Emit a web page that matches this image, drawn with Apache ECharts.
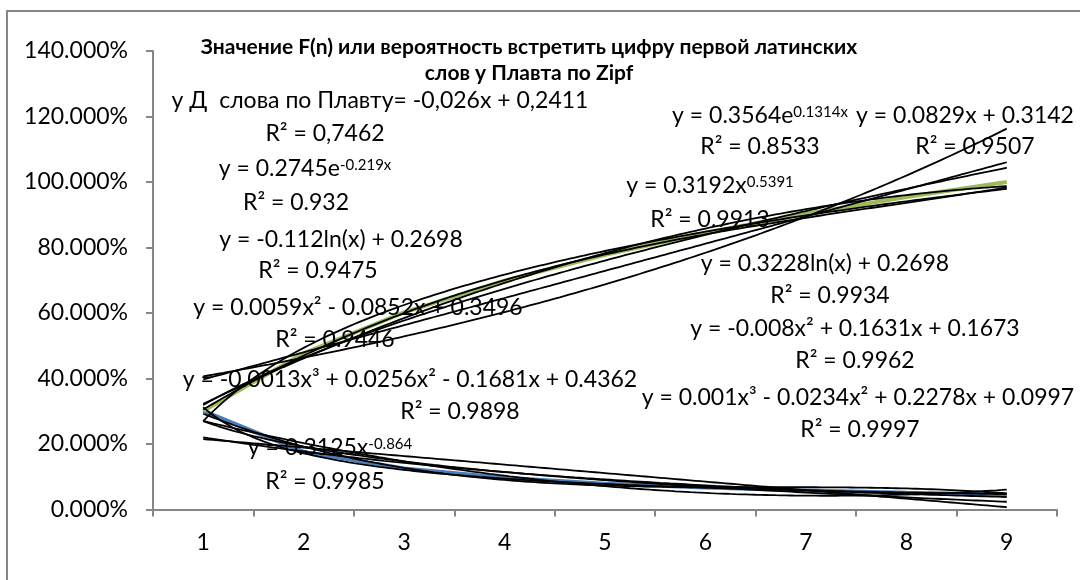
<!DOCTYPE html>
<html>
<head>
<meta charset="utf-8">
<script src="https://cdn.jsdelivr.net/npm/echarts@6/dist/echarts.min.js"></script>
<style>
  html, body { margin: 0; padding: 0; background: #fff; }
  #chart { width: 1080px; height: 580px; }
</style>
</head>
<body>
<div id="chart"></div>
<script>
// First digit 1..9
const digits = ['1', '2', '3', '4', '5', '6', '7', '8', '9'];
// Probability of each first digit
const digitProb = [0.301, 0.176, 0.125, 0.097, 0.079, 0.067, 0.058, 0.051, 0.046];
// Cumulative value F(n)
const cumulativeF = [0.301, 0.477, 0.602, 0.699, 0.778, 0.845, 0.903, 0.954, 1.000];

// Trendline coefficients as printed in the equations
const decLinear = [-0.026, 0.2411];           // a*x + b
const decExp = [0.2745, -0.219];              // a*e^(b*x)
const decLog = [-0.112, 0.2698];              // a*ln(x) + b
const decPoly2 = [0.0059, -0.0852, 0.3496];   // a*x^2 + b*x + c
const decPoly3 = [-0.0013, 0.0256, -0.1681, 0.4362];
const decPower = [0.3125, -0.864];            // a*x^b

const incExp = [0.3564, 0.1314];
const incLinear = [0.0829, 0.3142];
const incPower = [0.3192, 0.5391];
const incLog = [0.3228, 0.2698];
const incPoly2 = [-0.008, 0.1631, 0.1673];
const incPoly3 = [0.001, -0.0234, 0.2278, 0.0997];

const FONT = 'Lato, "Open Sans", sans-serif';
const EQ_SIZE = 23;
const AXIS_SIZE = 23;

const fns = {
  linear: (c) => (x) => c[0] * x + c[1],
  exp: (c) => (x) => c[0] * Math.exp(c[1] * x),
  log: (c) => (x) => c[0] * Math.log(x) + c[1],
  poly2: (c) => (x) => c[0] * x * x + c[1] * x + c[2],
  poly3: (c) => (x) => c[0] * x * x * x + c[1] * x * x + c[2] * x + c[3],
  power: (c) => (x) => c[0] * Math.pow(x, c[1])
};

function curve(f) {
  const pts = [];
  for (let i = 0; i <= 160; i++) {
    const x = 1 + i * 0.05;
    pts.push([x, f(x)]);
  }
  return pts;
}

function trend(kind, coef) {
  return {
    type: 'line', xAxisIndex: 1, showSymbol: false, symbol: 'none',
    silent: true, z: 3,
    lineStyle: { color: '#000', width: 1.8 },
    data: curve(fns[kind](coef))
  };
}

function dataSeries(values, color) {
  return {
    type: 'line', xAxisIndex: 1, showSymbol: false, symbol: 'none',
    silent: true, z: 2,
    lineStyle: { color: color, width: 4 },
    data: values.map((v, i) => [i + 1, v])
  };
}

// Equation label: text with optional {s|superscript} parts
function eq(text, x, y) {
  return {
    type: 'text', x: x, y: y, z: 10,
    style: {
      text: text,
      font: EQ_SIZE + 'px ' + FONT,
      fill: '#000',
      textAlign: 'center',
      textVerticalAlign: 'middle',
      rich: {
        s: { fontSize: 15, fontFamily: FONT, verticalAlign: 'top', lineHeight: 15, padding: [0, 0, 12, 0] }
      }
    }
  };
}

const chart = echarts.init(document.getElementById('chart'));
chart.setOption({
  animation: false,
  backgroundColor: '#fff',
  grid: { left: 153, right: 23, top: 51, bottom: 70.5 },
  xAxis: [
    {
      type: 'category', data: digits, boundaryGap: true,
      axisLine: { lineStyle: { color: '#868686', width: 2 } },
      axisTick: { show: true, length: 7, inside: false, lineStyle: { color: '#868686', width: 2 } },
      axisLabel: { color: '#000', fontSize: AXIS_SIZE, fontFamily: FONT, margin: 22 },
      splitLine: { show: false }
    },
    { type: 'value', min: 0.5, max: 9.5, show: false }
  ],
  yAxis: {
    type: 'value', min: 0, max: 1.4, interval: 0.2,
    axisLine: { show: true, lineStyle: { color: '#868686', width: 2 } },
    axisTick: { show: true, length: 7, inside: false, lineStyle: { color: '#868686', width: 2 } },
    axisLabel: {
      color: '#000', fontSize: AXIS_SIZE, fontFamily: FONT, margin: 25,
      formatter: (v) => (v * 100).toFixed(3) + '%'
    },
    splitLine: { show: false }
  },
  series: [
    dataSeries(digitProb, '#4a7ebb'),
    dataSeries(cumulativeF, '#9bbb59'),
    trend('linear', decLinear),
    trend('exp', decExp),
    trend('log', decLog),
    trend('poly2', decPoly2),
    trend('poly3', decPoly3),
    trend('power', decPower),
    trend('exp', incExp),
    trend('linear', incLinear),
    trend('power', incPower),
    trend('log', incLog),
    trend('poly2', incPoly2),
    trend('poly3', incPoly3)
  ],
  graphic: [
    { type: 'rect', shape: { x: 7, y: 11, width: 1200, height: 700 }, style: { fill: null, stroke: '#868686', lineWidth: 2 }, silent: true },
    { type: 'text', x: 529, y: 47, z: 10, style: { text: 'Значение F(n) или вероятность встретить цифру первой латинских', font: 'bold 21px ' + FONT, fill: '#000', textAlign: 'center', textVerticalAlign: 'middle' } },
    { type: 'text', x: 529, y: 73, z: 10, style: { text: 'слов у Плавта по Zipf', font: 'bold 21px ' + FONT, fill: '#000', textAlign: 'center', textVerticalAlign: 'middle' } },

    eq('y Д  слова по Плавту= -0,026x + 0,2411', 380, 101),
    eq('R² = 0,7462', 325, 134),
    eq('y = 0.2745e{s|-0.219x}', 305, 169),
    eq('R² = 0.932', 296, 203),
    eq('y = -0.112ln(x) + 0.2698', 341, 240),
    eq('R² = 0.9475', 318, 271),
    eq('y = 0.0059x² - 0.0852x + 0.3496', 358, 308),
    eq('R² = 0.9446', 335, 340),
    eq('y = -0.0013x³ + 0.0256x² - 0.1681x + 0.4362', 410, 380),
    eq('R² = 0.9898', 460, 412),
    eq('y = 0.3125x{s|-0.864}', 330, 448),
    eq('R² = 0.9985', 325, 482),

    eq('y = 0.3564e{s|0.1314x}', 760, 116),
    eq('R² = 0.8533', 760, 147),
    eq('y = 0.0829x + 0.3142', 965, 116),
    eq('R² = 0.9507', 975, 147),
    eq('y = 0.3192x{s|0.5391}', 710, 186),
    eq('R² = 0.9913', 710, 220),
    eq('y = 0.3228ln(x) + 0.2698', 825, 264),
    eq('R² = 0.9934', 830, 296),
    eq('y = -0.008x² + 0.1631x + 0.1673', 855, 329),
    eq('R² = 0.9962', 855, 361),
    eq('y = 0.001x³ - 0.0234x² + 0.2278x + 0.0997', 858, 398),
    eq('R² = 0.9997', 860, 430)
  ]
});
</script>
</body>
</html>
